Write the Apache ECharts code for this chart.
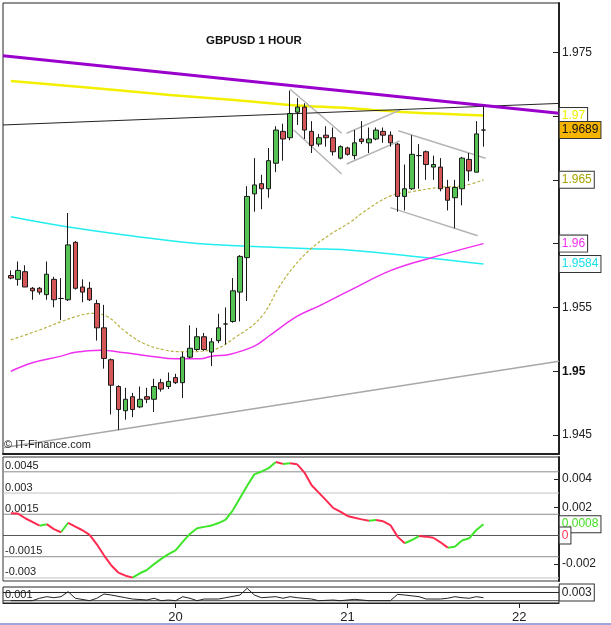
<!DOCTYPE html>
<html><head><meta charset="utf-8">
<script src="https://cdn.jsdelivr.net/npm/echarts@6/dist/echarts.min.js"></script>
<style>html,body{margin:0;padding:0;background:#fff}#c{width:611px;height:625px}</style>
</head><body><div id="c"></div>
<script>
// ---------- DATA ----------
const FIRST_HOUR = -23;            // first candle, hours relative to day 20 00:00
const candleOpen  = [1.9575,1.9572,1.9578,1.9565,1.9565,1.9560,1.9572,1.9557,1.9556,1.9601,1.9566,1.9565,1.9553,1.9534,1.9509,1.9488,1.9469,1.9480,1.9472,1.9480,1.9478,1.9491,1.9488,1.9495,1.9491,1.9511,1.9517,1.9527,1.9515,1.9524,1.9537,1.9539,1.9562,1.9589,1.9639,1.9647,1.9643,1.9663,1.9688,1.9683,1.9703,1.9707,1.9688,1.9678,1.9685,1.9683,1.9667,1.9675,1.9669,1.9682,1.9679,1.9682,1.9688,1.9685,1.9678,1.9637,1.9643,1.9669,1.9672,1.9660,1.9660,1.9644,1.9636,1.9643,1.9666,1.9656,1.9689];
const candleClose = [1.9573,1.9579,1.9566,1.9563,1.9562,1.9576,1.9556,1.9557,1.9599,1.9565,1.9562,1.9556,1.9534,1.9510,1.9489,1.9470,1.9478,1.9470,1.9478,1.9478,1.9488,1.9486,1.9492,1.9491,1.9511,1.9518,1.9527,1.9517,1.9523,1.9534,1.9537,1.9563,1.9590,1.9637,1.9646,1.9643,1.9665,1.9689,1.9682,1.9702,1.9707,1.9689,1.9677,1.9683,1.9683,1.9672,1.9676,1.9670,1.9679,1.9680,1.9682,1.9689,1.9685,1.9679,1.9637,1.9643,1.9670,1.9669,1.9662,1.9662,1.9643,1.9634,1.9644,1.9667,1.9657,1.9686,1.9689];
const candleLow   = [1.9572,1.9567,1.9566,1.9556,1.9560,1.9556,1.9550,1.9540,1.9555,1.9564,1.9554,1.9555,1.9524,1.9502,1.9466,1.9454,1.9462,1.9464,1.9471,1.9475,1.9468,1.9484,1.9486,1.9490,1.9479,1.9510,1.9516,1.9516,1.9504,1.9522,1.9521,1.9538,1.9539,1.9555,1.9625,1.9627,1.9636,1.9656,1.9665,1.9681,1.9693,1.9682,1.9671,1.9676,1.9676,1.9669,1.9666,1.9669,1.9666,1.9678,1.9671,1.9681,1.9679,1.9676,1.9625,1.9626,1.9642,1.9643,1.9650,1.9650,1.9641,1.9626,1.9612,1.9630,1.9649,1.9656,1.9676];
const candleHigh  = [1.9579,1.9586,1.9583,1.9566,1.9566,1.9586,1.9574,1.9573,1.9624,1.9602,1.9572,1.9570,1.9556,1.9552,1.9510,1.9489,1.9487,1.9483,1.9488,1.9487,1.9494,1.9494,1.9499,1.9498,1.9515,1.9536,1.9534,1.9530,1.9526,1.9545,1.9550,1.9573,1.9591,1.9645,1.9667,1.9654,1.9675,1.9692,1.9694,1.9720,1.9714,1.9710,1.9696,1.9686,1.9692,1.9691,1.9677,1.9676,1.9689,1.9696,1.9691,1.9691,1.9691,1.9688,1.9679,1.9662,1.9685,1.9678,1.9673,1.9669,1.9667,1.9650,1.9650,1.9668,1.9671,1.9696,1.9708];

// moving averages: [hour, price]
const yellowMA  = [[-23,1.97275],[-8.4,1.97204],[-0.8,1.97165],[8.2,1.97126],[16,1.97087],[24.4,1.97061],[31,1.97034],[43,1.97005]];
const cyanMA    = [[-23,1.9621],[-15,1.9613],[-6,1.9606],[3,1.9600],[10,1.9598],[19,1.9596],[24,1.9595],[35,1.9589],[43,1.9584]];
const magentaMA = [[-23,1.9500],[-20,1.95066],[-16,1.95118],[-14,1.95149],[-10.5,1.95165],[-7,1.95144],[-3.5,1.95118],[0,1.95097],[3.5,1.95097],[5,1.95118],[7.5,1.95131],[11,1.95196],[13,1.95274],[17,1.95431],[20,1.9551],[24.5,1.95637],[30,1.95788],[35.5,1.95886],[43,1.9600]];
const oliveMA   = [[-23,1.95245],[-19,1.95323],[-16,1.95388],[-14,1.95427],[-11.5,1.95454],[-9.5,1.95427],[-7,1.9531],[-4.5,1.95219],[-1.5,1.95166],[1,1.95153],[5,1.95166],[8.5,1.95271],[12,1.95427],[14.5,1.95663],[16.5,1.95819],[19,1.95964],[21.5,1.96068],[24.5,1.96172],[26,1.96238],[30,1.96374],[33,1.96407],[37,1.96442],[40,1.96452],[43,1.9650]];

// trend lines: [hour, price] end points
const purpleTrend = [[-24.1,1.97473],[53.55,1.97022]];
const blackTrend  = [[-24.1,1.9693],[53.55,1.97099]];
const grayTrend   = [[-24.1,1.9440],[53.55,1.95078]];
const channelLines = [
  [[16,1.9721],[23.2,1.96865]],
  [[16.5,1.96891],[23.2,1.96546]],
  [[23.9,1.96865],[31.4,1.97048]],
  [[23.9,1.96624],[31.3,1.96805]],
  [[31.1,1.96885],[43.3,1.96669]],
  [[30,1.96282],[42.2,1.96062]]
];

// oscillator (hourly, from FIRST_HOUR)
const macdValues = [0.00157,0.00155,0.00122,0.00096,0.00069,0.00080,0.00045,0.00023,0.00090,0.00063,0.00037,0.00004,-0.00062,-0.00140,-0.00210,-0.00262,-0.00284,-0.00298,-0.00267,-0.00244,-0.00202,-0.00165,-0.00132,-0.00105,-0.00045,0.00011,0.00051,0.00061,0.00070,0.00088,0.00112,0.00178,0.00265,0.00352,0.00432,0.00452,0.00476,0.00520,0.00506,0.00510,0.00503,0.00445,0.00355,0.00303,0.00250,0.00195,0.00168,0.00138,0.00125,0.00114,0.00104,0.00110,0.00100,0.00074,-0.00008,-0.00055,-0.00032,-0.00004,-0.00008,-0.00016,-0.00048,-0.00086,-0.00079,-0.00035,-0.00020,0.00039,0.00080];
// volatility panel: [hour, value]
const volLine = [[-23,0.0010],[-20,0.0010],[-19,0.00159],[-18,0.00198],[-17,0.00173],[-16,0.00198],[-15,0.00320],[-14,0.00159],[-12,0.0010],[-11,0.00159],[-10,0.00263],[-9,0.00239],[-7,0.00173],[-6,0.00141],[-4,0.00117],[-3,0.00159],[-2,0.0010],[-1,0.00117],[0,0.0010],[1,0.00198],[2,0.00159],[3,0.0010],[4,0.00141],[6,0.00141],[7,0.00173],[9,0.00239],[10,0.00402],[11,0.00239],[12,0.00173],[14,0.00198],[15,0.00159],[16,0.00198],[17,0.00173],[19,0.00141],[20,0.0010],[22,0.00117],[23,0.0010],[25,0.00133],[27,0.0010],[30,0.0010],[31,0.00255],[32,0.00239],[34,0.00198],[35,0.00141],[37,0.00141],[38,0.00159],[39,0.00198],[40,0.00173],[41,0.00159],[42,0.00198],[43,0.00173]];

// axis ticks / labels
const dayTicks = [0, 24, 48];
const FIRST_DAY = 20;
const priceTicks = [1.945,1.95,1.955,1.96,1.965,1.97,1.975];
const oscLeftLabels = [0.0045,0.003,0.0015,-0.0015,-0.003];
const oscGridLines = [0.0045,0.003,0.0015,0,-0.0015,-0.003];
const oscRightLabels = [0.004,0.002,-0.002];
const oscRightTicks = [0.004,0.002,0,-0.002];
const volLeftLabels = [0.001];
const volGridLines = [0.003,0.001];

// value tags at right
const mainTagValues = [1.97,1.9689,1.965,1.96,1.9584];
const oscTagValues = [0.0008,0];
const volTagValues = [0.003];

// ---------- CHART ----------
const FONT = 'Liberation Sans, Arial, sans-serif';
const X_MIN = -24.1, X_MAX = 53.55;
const chart = echarts.init(document.getElementById('c'));

const candles = candleOpen.map((o,i)=>[FIRST_HOUR+i, o, candleClose[i], candleLow[i], candleHigh[i]]);
const macdPts = macdValues.map((v,i)=>[FIRST_HOUR+i, v]);
const macdUp = [], macdDn = [];
for (let i=0;i<macdPts.length-1;i++){
  const a = macdPts[i], b = macdPts[i+1];
  const t = b[1] >= a[1] ? macdUp : macdDn;
  t.push(a, b, [b[0], null]);
}

function lineSeries(data, style, opts){
  return Object.assign({type:'line', xAxisIndex:0, yAxisIndex:0, data, symbol:'none', showSymbol:false,
    silent:true, animation:false, lineStyle:style, z:3}, opts||{});
}
function hLine(xi, yi, v, color){
  return lineSeries([[X_MIN, v],[X_MAX, v]], {color, width:1}, {xAxisIndex:xi, yAxisIndex:yi, z:1});
}
function tag(xi, yi, value, color, bg, z){
  return {type:'scatter', xAxisIndex:xi, yAxisIndex:yi, data:[[X_MAX, value]], symbol:'rect', symbolSize:0.5,
    itemStyle:{color:'rgba(0,0,0,0)'}, clip:false, silent:true, animation:false, z:10+z,
    label:{show:true, position:'right', distance:0.5, formatter:()=>String(value), color:color, opacity:1,
      backgroundColor:bg, borderColor:'#333', borderWidth:1, padding:[2,2,1,2],
      fontSize:12, lineHeight:13, fontFamily:FONT},
    labelLayout:{hideOverlap:false}};
}

const series = [];
// main MAs
series.push(lineSeries(yellowMA, {color:'#f2f000', width:2.5}, {smooth:0.4}));
series.push(lineSeries(cyanMA, {color:'#22eef0', width:1.5}, {smooth:0.4}));
series.push(lineSeries(magentaMA, {color:'#f030f0', width:1.5}, {smooth:0.4}));
series.push(lineSeries(oliveMA, {color:'#b8b040', width:1.2, type:[3,2]}, {smooth:0.4}));
series.push(lineSeries(grayTrend, {color:'#a8a8a8', width:1.5}));
channelLines.forEach(c=>series.push(lineSeries(c, {color:'#b4b4b4', width:1.5})));
series.push(lineSeries(blackTrend, {color:'#222', width:1}));
series.push(lineSeries(purpleTrend, {color:'#9a00cc', width:3}));
series.push({type:'candlestick', xAxisIndex:0, yAxisIndex:0, data:candles, barWidth:5, silent:true, animation:false, z:4,
  encode:{x:0, y:[1,2,3,4]},
  itemStyle:{color:'#55c455', color0:'#d45656', borderColor:'#1a1a1a', borderColor0:'#1a1a1a', borderColorDoji:'#1a1a1a', borderWidth:1}});

// oscillator
const oscLineColors = ['#8c8c8c','#c4c4c4','#8c8c8c','#555555','#8c8c8c','#c4c4c4'];
oscGridLines.forEach((v,i)=>series.push(hLine(1,1,v,oscLineColors[i])));
series.push(lineSeries(macdUp, {color:'#3ee52a', width:2}, {xAxisIndex:1, yAxisIndex:1, connectNulls:false}));
series.push(lineSeries(macdDn, {color:'#ff2a50', width:2}, {xAxisIndex:1, yAxisIndex:1, connectNulls:false}));

// volatility
const volLineColors = ['#222222','#444444'];
volGridLines.forEach((v,i)=>series.push(hLine(2,3,v,volLineColors[i])));
series.push(lineSeries(volLine, {color:'#222', width:1}, {xAxisIndex:2, yAxisIndex:3}));

// tags
const mainTagColors = [['#eeee00','#fff'],['#111','#f5b400'],['#a8a400','#fff'],['#f030f0','#fff'],['#18e0e8','#fff']];
mainTagValues.forEach((v,i)=>series.push(tag(0,0,v,mainTagColors[i][0],mainTagColors[i][1],i)));
const oscTagColors = [['#44e022','#fff'],['#ff3355','#fff']];
oscTagValues.forEach((v,i)=>series.push(tag(1,1,v,oscTagColors[i][0],oscTagColors[i][1],i)));
volTagValues.forEach((v,i)=>series.push(tag(2,3,v,'#222','#fff',i)));

const axisTxt = {fontFamily:FONT, color:'#222'};

chart.setOption({
  animation:false,
  backgroundColor:'#fff',
  title:{text:'GBPUSD 1 HOUR', left:206, top:35, padding:0,
    textStyle:{fontFamily:FONT, fontSize:11.5, fontWeight:'bold', color:'#111'}},
  grid:[
    {left:3, top:3, width:556, height:451, show:true, borderColor:'#222', borderWidth:1},
    {left:3, top:457, width:556, height:124, show:true, borderColor:'#333', borderWidth:1},
    {left:3, top:587, width:556, height:16, show:true, borderColor:'#222', borderWidth:1}
  ],
  xAxis:[
    {gridIndex:0, type:'value', min:X_MIN, max:X_MAX, axisLine:{show:true, onZero:false, lineStyle:{color:'#222', width:2}},
      axisTick:{show:false}, axisLabel:{show:false}, splitLine:{show:false}},
    {gridIndex:1, type:'value', min:X_MIN, max:X_MAX, axisLine:{show:false}, axisTick:{show:false}, axisLabel:{show:false}, splitLine:{show:false}},
    {gridIndex:2, type:'value', min:X_MIN, max:X_MAX, position:'bottom',
      axisLine:{show:true, onZero:false, lineStyle:{color:'#222', width:1}},
      axisTick:{show:true, customValues:dayTicks, length:5, lineStyle:{color:'#222'}},
      axisLabel:Object.assign({customValues:dayTicks, formatter:v=>String(FIRST_DAY + v/24), margin:8, fontSize:13}, axisTxt),
      splitLine:{show:false}}
  ],
  yAxis:[
    {gridIndex:0, type:'value', position:'right', min:1.94351, max:1.97886,
      axisLine:{show:true, onZero:false, lineStyle:{color:'#222', width:2}},
      axisTick:{show:true, inside:true, length:6, customValues:priceTicks, lineStyle:{color:'#222'}},
      axisLabel:Object.assign({customValues:priceTicks, margin:3, fontSize:12,
        formatter:v=> Math.abs(v-1.95)<1e-9 ? '{b|'+String(v)+'}' : String(v),
        rich:{b:{fontWeight:'bold', fontSize:12, fontFamily:FONT, color:'#111'}}}, axisTxt),
      splitLine:{show:false}},
    {gridIndex:1, type:'value', position:'right', min:-0.003216, max:0.005548,
      axisLine:{show:true, onZero:false, lineStyle:{color:'#222', width:2}},
      axisTick:{show:true, inside:true, length:5, customValues:oscRightTicks, lineStyle:{color:'#222'}},
      axisLabel:Object.assign({customValues:oscRightLabels, margin:3, fontSize:12, formatter:v=>String(v)}, axisTxt),
      splitLine:{show:false}},
    {gridIndex:1, type:'value', position:'left', min:-0.003216, max:0.005548,
      axisLine:{show:false}, axisTick:{show:false},
      axisLabel:Object.assign({inside:true, verticalAlign:'bottom', customValues:oscLeftLabels, margin:2, fontSize:11, formatter:v=>String(v)}, axisTxt),
      splitLine:{show:false}},
    {gridIndex:2, type:'value', position:'left', min:0.000439, max:0.004341,
      axisLine:{show:false}, axisTick:{show:false},
      axisLabel:Object.assign({inside:true, verticalAlign:'bottom', customValues:volLeftLabels, margin:2, fontSize:11, formatter:v=>String(v)}, axisTxt),
      splitLine:{show:false}}
  ],
  graphic:[
    {type:'text', left:4, top:439, z:20, style:{text:'© IT-Finance.com', font:'11px '+FONT, fill:'#222'}},
    {type:'rect', left:0, top:623, shape:{width:611, height:2}, style:{fill:'#a4a4dc'}}
  ],
  series
});
</script>
</body></html>
